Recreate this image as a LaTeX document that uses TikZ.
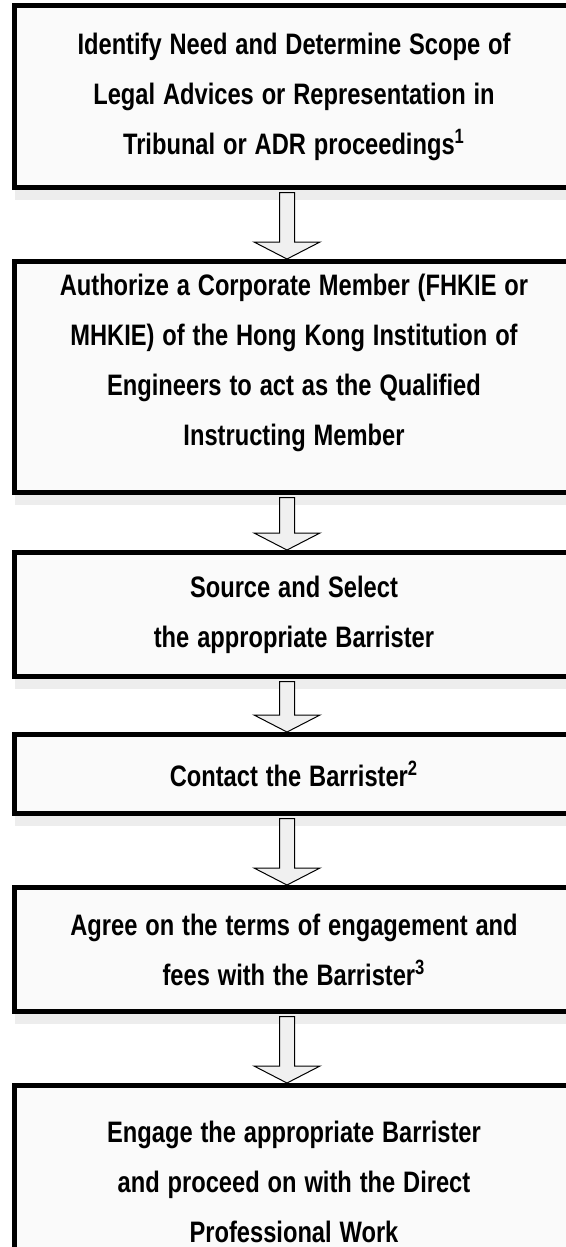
\documentclass[tikz,border=0pt]{standalone}
\usepackage{fontspec}
\setmainfont{Liberation Sans}[FakeStretch=0.8, WordSpace=1.2]
\usetikzlibrary{calc,shadows}

\tikzset{
  stepbox/.style={rectangle, draw=black, line width=2.5pt, fill=black!2,
    minimum width=279.5pt, align=center, inner sep=0pt,
    font=\bfseries\fontsize{14.8}{25}\selectfont,
    drop shadow={shadow xshift=0pt, shadow yshift=-6.25pt, fill=black!7, opacity=1}},
  flowarr/.style={draw=black, line width=0.5pt, fill=black!6, line join=miter}
}

% hollow block arrow from the bottom of one box to the top of the next
\newcommand{\flowarrow}[2]{%
  \path[flowarr] ($(ax |- #1.south)+(-7.5,2.5)$) -- ($(ax |- #2.north)+(-7.5,-17)$)
    -- ($(ax |- #2.north)+(-33,-17)$) -- (ax |- #2.north)
    -- ($(ax |- #2.north)+(33,-17)$) -- ($(ax |- #2.north)+(7.5,-17)$)
    -- ($(ax |- #1.south)+(7.5,2.5)$) -- cycle;}

\begin{document}
\begin{tikzpicture}[x=0.5pt, y=-0.5pt]
  \path[use as bounding box, clip] (0,0) rectangle (566,1247);
  \coordinate (ax) at (287,0);

  \node[stepbox, minimum height=91pt] (A) at (294,96.5)
    {Identify Need and Determine Scope of\\Legal Advices or Representation in\\Tribunal or ADR proceedings\textsuperscript{1}};
  \node[stepbox, minimum height=115.5pt, text depth=17pt] (B) at (294,377)
    {Authorize a Corporate Member (FHKIE or\\MHKIE) of the Hong Kong Institution of\\Engineers to act as the Qualified\\Instructing Member};
  \node[stepbox, minimum height=62pt] (C) at (294,614.5)
    {Source and Select\\the appropriate Barrister};
  \node[stepbox, minimum height=39.5pt] (D) at (294,774)
    {Contact the Barrister\textsuperscript{2}};
  \node[stepbox, minimum height=62pt] (E) at (294,949.5)
    {Agree on the terms of engagement and\\fees with the Barrister\textsuperscript{3}};
  \node[stepbox, minimum height=96.5pt] (F) at (294,1182)
    {Engage the appropriate Barrister\\and proceed on with the Direct\\Professional Work};

  \flowarrow{A}{B}
  \flowarrow{B}{C}
  \flowarrow{C}{D}
  \flowarrow{D}{E}
  \flowarrow{E}{F}
\end{tikzpicture}
\end{document}
